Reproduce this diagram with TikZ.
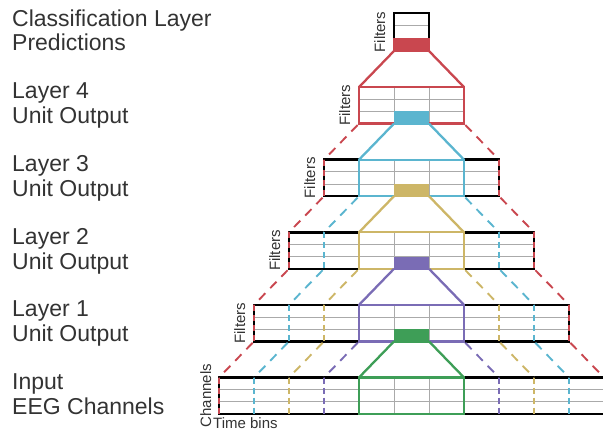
\documentclass[tikz,border=0pt]{standalone}
\usepackage{fontspec}
\setmainfont{Liberation Sans}
\definecolor{c0}{HTML}{3E9E57}
\definecolor{c1}{HTML}{7A6CB5}
\definecolor{c2}{HTML}{CDB667}
\definecolor{c3}{HTML}{5BB5CF}
\definecolor{c4}{HTML}{C9474F}
\definecolor{txt}{HTML}{333333}
\definecolor{gridc}{HTML}{AAAAAA}
\begin{document}
\begin{tikzpicture}[x=1pt,y=-1pt,
  gridline/.style={gridc, line width=0.9pt},
  border/.style={black, line width=2.6pt},
  cbox/.style={line width=2.3pt, line join=miter},
  vdash/.style={line width=1.9pt, dash pattern=on 6pt off 4pt},
  ddash/.style={line width=1.9pt, dash pattern=on 9pt off 7pt, shorten <=2pt},
  conn/.style={line width=2.3pt},
  lbl/.style={anchor=base west, inner sep=0, font=\fontsize{23}{27}\selectfont, text=txt},
  axl/.style={inner sep=0, font=\fontsize{15}{18}\selectfont, text=txt}]
\useasboundingbox (0,0) rectangle (603,433);
\def\cx{411.5}
\def\h{36.5}
% layers
\foreach \L in {0,...,4} {
  \pgfmathsetmacro\T{377.5-72.6*\L}
  \pgfmathsetmacro\B{\T+\h}
  \pgfmathsetmacro\W{17.5*(11-2*\L)}
  \pgfmathtruncatemacro\nj{4-\L}
  % grid
  \draw[gridline] ({\cx-\W},{\T+\h/3}) -- ({\cx+\W},{\T+\h/3});
  \draw[gridline] ({\cx-\W},{\T+2*\h/3}) -- ({\cx+\W},{\T+2*\h/3});
  \draw[gridline] ({\cx-17.5},\T) -- ({\cx-17.5},\B);
  \draw[gridline] ({\cx+17.5},\T) -- ({\cx+17.5},\B);
  \ifnum\L<4
    \draw[border] ({\cx-52.5},\T) -- ({\cx-\W},\T) -- ({\cx-\W},\B) -- ({\cx-52.5},\B);
    \draw[border] ({\cx+52.5},\T) -- ({\cx+\W},\T) -- ({\cx+\W},\B) -- ({\cx+52.5},\B);
    \foreach \j in {1,...,\nj} {
      \pgfmathtruncatemacro\m{\L+\j}
      \draw[vdash, c\m] ({\cx-52.5-35*\j},\T) -- ({\cx-52.5-35*\j},\B);
      \draw[vdash, c\m] ({\cx+52.5+35*\j},\T) -- ({\cx+52.5+35*\j},\B);
    }
  \fi
  \draw[cbox, c\L] ({\cx-52.5},\T) rectangle ({\cx+52.5},\B);
  \ifnum\L>0
    \pgfmathtruncatemacro\Lm{\L-1}
    \fill[c\Lm] ({\cx-17.5},{\B-\h/3}) rectangle ({\cx+17.5},{\B+1.15});
  \fi
}
% top box (classification layer)
\coordinate (topbl) at ({\cx-17.5},51);
\coordinate (topbr) at ({\cx+17.5},51);
\draw[gridline] ({\cx-17.5},25.7) -- ({\cx+17.5},25.7);
\draw[border] ({\cx-17.5},13) rectangle ({\cx+17.5},51);
\fill[c4] ({\cx-18.8},38.3) rectangle ({\cx+18.8},52.3);
% connectors between layers
\foreach \L in {0,...,4} {
  \pgfmathsetmacro\T{377.5-72.6*\L}
  \ifnum\L<4
    \pgfmathsetmacro\Bu{377.5-72.6*(\L+1)+\h}
  \else
    \def\Bu{51}
  \fi
  \draw[conn, c\L] ({\cx-17.5},\Bu) -- ({\cx-52.5},\T);
  \draw[conn, c\L] ({\cx+17.5},\Bu) -- ({\cx+52.5},\T);
  \ifnum\L<4
    \pgfmathtruncatemacro\nj{3-\L}
    \foreach \j in {0,...,\nj} {
      \pgfmathtruncatemacro\m{\L+1+\j}
      \draw[ddash, c\m] ({\cx-52.5-35*\j},\Bu) -- ({\cx-87.5-35*\j},\T);
      \draw[ddash, c\m] ({\cx+52.5+35*\j},\Bu) -- ({\cx+87.5+35*\j},\T);
    }
  \fi
}
% side labels
\node[axl, rotate=90, anchor=south] (f5) at (385.5,32) {Filters};
\node[axl, rotate=90, anchor=south] (f4) at (350.5,105.3) {Filters};
\node[axl, rotate=90, anchor=south] (f3) at (315.5,177.9) {Filters};
\node[axl, rotate=90, anchor=south] (f2) at (280.5,250.5) {Filters};
\node[axl, rotate=90, anchor=south] (f1) at (245.5,323.1) {Filters};
\node[axl, rotate=90, anchor=south] (ch) at (211.5,395.7) {Channels};
\node[axl, anchor=base west] (tb) at (213,428) {Time bins};
% left labels
\node[lbl] (a1) at (12,27) {Classification Layer};
\node[lbl] (a2) at (12,51) {Predictions};
\node[lbl] (b1) at (12,99) {Layer 4};
\node[lbl] (b2) at (12,124) {Unit Output};
\node[lbl] (c1) at (12,171.7) {Layer 3};
\node[lbl] (c2) at (12,196.7) {Unit Output};
\node[lbl] (d1) at (12,244.3) {Layer 2};
\node[lbl] (d2) at (12,269.3) {Unit Output};
\node[lbl] (e1) at (12,316.9) {Layer 1};
\node[lbl] (e2) at (12,341.9) {Unit Output};
\node[lbl] (g1) at (12,389.5) {Input};
\node[lbl] (g2) at (12,414.5) {EEG Channels};
\end{tikzpicture}
\end{document}
